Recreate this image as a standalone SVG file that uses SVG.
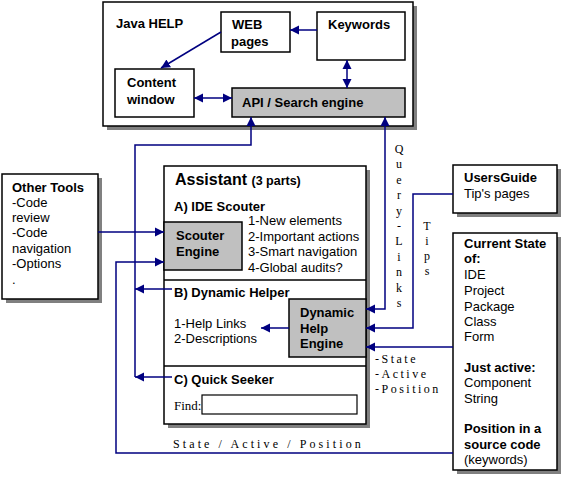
<svg xmlns="http://www.w3.org/2000/svg" width="562" height="477" viewBox="0 0 562 477">
<style>
.box{fill:#fff;stroke:#000;stroke-width:1.5}
.gray{fill:#c0c0c0;stroke:#000;stroke-width:1.5}
.shadow{fill:#808080}
.b{font-family:"Liberation Sans",Arial,sans-serif;font-weight:bold;font-size:13px;fill:#000}
.r{font-family:"Liberation Sans",Arial,sans-serif;font-size:13px;fill:#000}
.s{font-family:"Liberation Serif","Times New Roman",serif;font-size:12px;fill:#000}
.c{fill:none;stroke:#000080;stroke-width:1.5}
</style>
<defs>
<marker id="ah" markerUnits="userSpaceOnUse" markerWidth="10" markerHeight="10" refX="9" refY="5" orient="auto-start-reverse">
<path d="M0,0.5 L9,5 L0,9.5 z" fill="#000080"/>
</marker>
</defs>
<rect width="562" height="477" fill="#fff"/>

<g id="javahelp">
<rect class="shadow" x="107" y="6" width="310" height="124"/>
<rect class="box" x="103" y="2" width="310" height="124"/>
<text class="b" x="116" y="28">Java HELP</text>
</g>
<g id="webpages">
<rect class="box" x="221" y="12" width="69" height="40"/>
<text class="b" x="232" y="29">WEB</text>
<text class="b" x="231" y="46">pages</text>
</g>
<g id="keywords">
<rect class="box" x="317" y="12" width="88" height="48"/>
<text class="b" x="328" y="29">Keywords</text>
</g>
<g id="content">
<rect class="box" x="115" y="69" width="79" height="48"/>
<text class="b" x="127" y="87">Content</text>
<text class="b" x="127" y="104">window</text>
</g>
<g id="api">
<rect class="gray" x="232" y="88" width="173" height="29"/>
<text class="b" x="242" y="107">API / Search engine</text>
</g>

<g id="othertools">
<rect class="shadow" x="6" y="178" width="96" height="125"/>
<rect class="box" x="2" y="174" width="96" height="125"/>
<text class="b" x="12" y="192">Other Tools</text>
<text class="r" x="12" y="207">-Code</text>
<text class="r" x="12" y="222">review</text>
<text class="r" x="12" y="237">-Code</text>
<text class="r" x="12" y="253">navigation</text>
<text class="r" x="12" y="268">-Options</text>
<text class="r" x="12" y="284">.</text>
</g>

<g id="assistant">
<rect class="shadow" x="168" y="170" width="202" height="258"/>
<rect class="box" x="164" y="166" width="202" height="258"/>
<line x1="164" y1="280" x2="366" y2="280" stroke="#000" stroke-width="1.5"/>
<line x1="164" y1="366" x2="366" y2="366" stroke="#000" stroke-width="1.5"/>
<text class="b" x="175" y="185" style="font-size:16px">Assistant <tspan style="font-size:12.5px">(3 parts)</tspan></text>
<text class="b" x="174" y="211">A) IDE Scouter</text>
<text class="r" x="248" y="225">1-New elements</text>
<text class="r" x="248" y="241">2-Important actions</text>
<text class="r" x="248" y="256">3-Smart navigation</text>
<text class="r" x="248" y="272">4-Global audits?</text>
<text class="b" x="174" y="297">B) Dynamic Helper</text>
<text class="r" x="174" y="328">1-Help Links</text>
<text class="r" x="174" y="343">2-Descriptions</text>
<text class="b" x="174" y="384">C) Quick Seeker</text>
<text class="s" x="174" y="410" style="font-size:13px">Find:</text>
<rect x="202" y="395" width="155" height="19" fill="#fff" stroke="#000" stroke-width="1.2"/>
</g>
<g id="scouter">
<rect class="gray" x="164" y="222" width="78" height="48"/>
<text class="b" x="176" y="240">Scouter</text>
<text class="b" x="176" y="256">Engine</text>
</g>
<g id="dynhelp">
<rect class="gray" x="289" y="299" width="77" height="58"/>
<text class="b" x="300" y="317">Dynamic</text>
<text class="b" x="300" y="333">Help</text>
<text class="b" x="300" y="348">Engine</text>
</g>

<g id="usersguide">
<rect class="shadow" x="457" y="169" width="104" height="48"/>
<rect class="box" x="453" y="165" width="104" height="48"/>
<text class="b" x="464" y="182">UsersGuide</text>
<text class="r" x="464" y="198">Tip's pages</text>
</g>
<g id="currentstate">
<rect class="shadow" x="457" y="237" width="104" height="237"/>
<rect class="box" x="453" y="233" width="104" height="237"/>
<text class="b" x="464" y="248">Current State</text>
<text class="b" x="464" y="263">of:</text>
<text class="r" x="464" y="279">IDE</text>
<text class="r" x="464" y="295">Project</text>
<text class="r" x="464" y="311">Package</text>
<text class="r" x="464" y="326">Class</text>
<text class="r" x="464" y="341">Form</text>
<text class="b" x="464" y="372">Just active:</text>
<text class="r" x="464" y="387">Component</text>
<text class="r" x="464" y="403">String</text>
<text class="b" x="464" y="433">Position in a</text>
<text class="b" x="464" y="449">source code</text>
<text class="r" x="464" y="464">(keywords)</text>
</g>

<g id="connectors">
<line class="c" x1="317" y1="30" x2="290" y2="30" marker-end="url(#ah)"/>
<line class="c" x1="221" y1="32" x2="161" y2="68" stroke-width="1" marker-end="url(#ah)"/>
<line class="c" x1="347" y1="60" x2="347" y2="88" marker-start="url(#ah)" marker-end="url(#ah)"/>
<line class="c" x1="194" y1="98" x2="232" y2="98" marker-start="url(#ah)" marker-end="url(#ah)"/>
<polyline class="c" points="135,377 135,145 251,145 251,117" marker-end="url(#ah)"/>
<line class="c" x1="172" y1="289" x2="135" y2="289" marker-end="url(#ah)"/>
<line class="c" x1="172" y1="377" x2="135" y2="377" marker-end="url(#ah)"/>
<line class="c" x1="98" y1="232" x2="164" y2="232" marker-end="url(#ah)"/>
<polyline class="c" points="453,453 116,453 116,262 164,262" marker-end="url(#ah)"/>
<polyline class="c" points="366,309 385,309 385,117" marker-start="url(#ah)" marker-end="url(#ah)"/>
<polyline class="c" points="453,194 413,194 413,328 366,328" marker-end="url(#ah)"/>
<line class="c" x1="453" y1="347" x2="366" y2="347" marker-end="url(#ah)"/>
<line class="c" x1="289" y1="328" x2="261" y2="328" marker-end="url(#ah)"/>
<text class="s" text-anchor="middle">
<tspan x="399" y="153">Q</tspan><tspan x="399" y="168.4">u</tspan><tspan x="399" y="183.8">e</tspan><tspan x="399" y="199.2">r</tspan><tspan x="399" y="214.6">y</tspan><tspan x="399" y="230">-</tspan><tspan x="399" y="245.4">L</tspan><tspan x="399" y="260.8">i</tspan><tspan x="399" y="276.2">n</tspan><tspan x="399" y="291.6">k</tspan><tspan x="399" y="307">s</tspan>
</text>
<text class="s" text-anchor="middle">
<tspan x="427" y="230">T</tspan><tspan x="427" y="245">i</tspan><tspan x="427" y="260">p</tspan><tspan x="427" y="275">s</tspan>
</text>
<text class="s" x="375" y="363" letter-spacing="2.5">-State</text>
<text class="s" x="375" y="378" letter-spacing="2.5">-Active</text>
<text class="s" x="375" y="393" letter-spacing="2.5">-Position</text>
<text class="s" x="173" y="448" letter-spacing="3.1">State / Active / Position</text>
</g>
</svg>
